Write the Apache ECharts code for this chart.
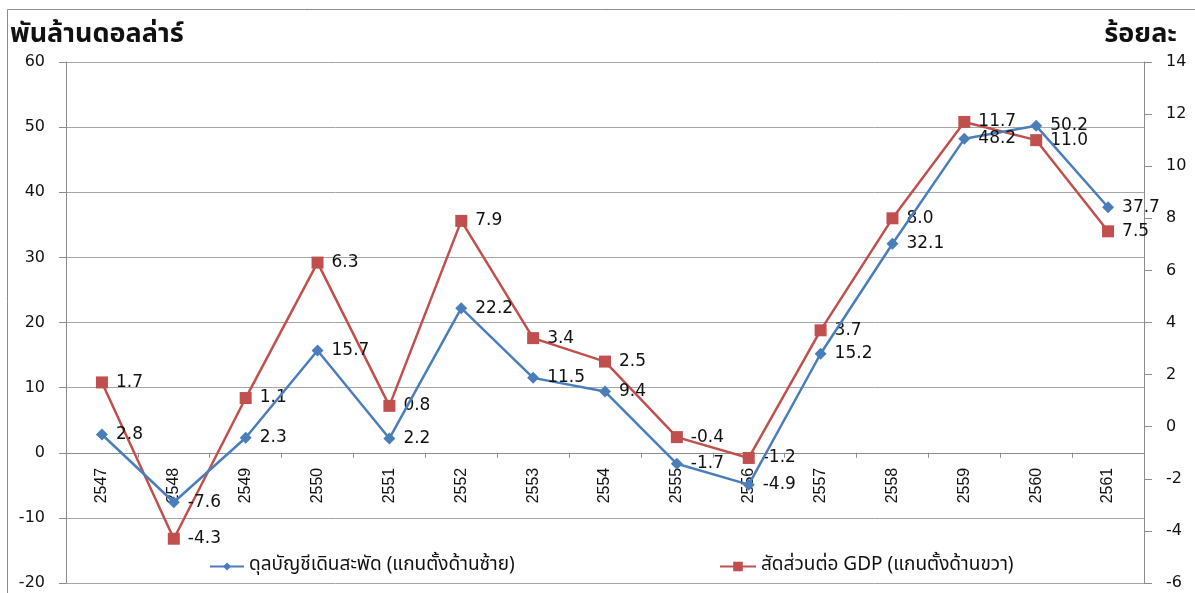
<!DOCTYPE html>
<html>
<head>
<meta charset="utf-8">
<script src="https://cdn.jsdelivr.net/npm/echarts@6/dist/echarts.min.js"></script>
<style>
  html, body { margin: 0; padding: 0; background: #fff; }
  #chart { width: 1195px; height: 593px; }
</style>
</head>
<body>
<div id="chart"></div>
<script>
// Years (Buddhist era)
const years = ['2547','2548','2549','2550','2551','2552','2553','2554','2555','2556','2557','2558','2559','2560','2561'];
// Current account balance, billion USD (left axis)
const currentAccount = [2.8, -7.6, 2.3, 15.7, 2.2, 22.2, 11.5, 9.4, -1.7, -4.9, 15.2, 32.1, 48.2, 50.2, 37.7];
// Share of GDP, percent (right axis)
const shareOfGdp = [1.7, -4.3, 1.1, 6.3, 0.8, 7.9, 3.4, 2.5, -0.4, -1.2, 3.7, 8.0, 11.7, 11.0, 7.5];

const seriesNames = ['ดุลบัญชีเดินสะพัด (แกนตั้งด้านซ้าย)', 'สัดส่วนต่อ GDP (แกนตั้งด้านขวา)'];
const leftAxisName = 'พันล้านดอลล่าร์';
const rightAxisName = 'ร้อยละ';

const BLUE = '#4a7ebb';
const RED = '#c0504d';
const GRID = '#a6a6a6';
const AXIS = '#8c8c8c';
const numFont = "'DejaVu Sans', Verdana, sans-serif";
const thaiFont = "Tahoma, 'Noto Sans Thai', 'Noto Sans', 'DejaVu Sans', sans-serif";

// plot box
const gridTop = 62, gridBottom = 10, chartH = 593;
const plotH = chartH - gridTop - gridBottom;
const leftMin = -20, leftMax = 60;
// shift the category axis up to the zero line of the left scale
const zeroOffset = -plotH * (0 - leftMin) / (leftMax - leftMin);

const chart = echarts.init(document.getElementById('chart'), null, { renderer: 'canvas' });

const labelStyle = {
  show: true,
  position: 'right',
  distance: 8,
  color: '#111',
  fontFamily: numFont,
  fontSize: 17,
  formatter: p => p.value.toFixed(1)
};

chart.setOption({
  animation: false,
  backgroundColor: '#fff',
  grid: {
    left: 66, right: 51, top: gridTop, bottom: gridBottom,
    containLabel: false,
    outerBoundsMode: 'none'
  },
  graphic: [
    {
      type: 'rect',
      shape: { x: 7.5, y: 9.5, width: 1200, height: 600 },
      style: { fill: 'none', stroke: AXIS, lineWidth: 1 },
      silent: true
    },
    {
      type: 'text', left: 10, top: 23,
      style: { text: leftAxisName, font: "bold 27px " + thaiFont, fill: '#111' }
    },
    {
      type: 'text', right: 18, top: 23,
      style: { text: rightAxisName, font: "bold 27px " + thaiFont, fill: '#111' }
    }
  ],
  legend: [
    {
      data: [seriesNames[0]],
      left: 204, top: 552,
      itemWidth: 34, itemHeight: 10, itemGap: 4,
      textStyle: { fontFamily: thaiFont, fontSize: 19, color: '#111' }
    },
    {
      data: [seriesNames[1]],
      left: 714, top: 552,
      itemWidth: 36, itemHeight: 12,
      textStyle: { fontFamily: thaiFont, fontSize: 19, color: '#111' }
    }
  ],
  xAxis: {
    type: 'category',
    data: years,
    boundaryGap: true,
    position: 'bottom',
    offset: zeroOffset,
    axisLine: { onZero: false, lineStyle: { color: AXIS, width: 1 } },
    axisTick: { show: true, length: 5, lineStyle: { color: AXIS } },
    axisLabel: {
      rotate: 90,
      margin: 15,
      color: '#111',
      fontFamily: "'Liberation Sans Narrow', 'Liberation Sans', sans-serif",
      fontSize: 16
    },
    splitLine: { show: false }
  },
  yAxis: [
    {
      type: 'value',
      min: leftMin, max: leftMax, interval: 10,
      axisLine: { show: true, lineStyle: { color: AXIS } },
      axisTick: { show: true, length: 7, lineStyle: { color: AXIS } },
      axisLabel: { margin: 21, color: '#111', fontFamily: numFont, fontSize: 16 },
      splitLine: { show: true, lineStyle: { color: GRID, width: 1 } }
    },
    {
      type: 'value',
      min: -6, max: 14, interval: 2,
      position: 'right',
      axisLine: { show: true, lineStyle: { color: AXIS } },
      axisTick: { show: true, length: 8, lineStyle: { color: AXIS } },
      axisLabel: { margin: 22, color: '#111', fontFamily: numFont, fontSize: 16 },
      splitLine: { show: false }
    }
  ],
  series: [
    {
      name: seriesNames[0],
      type: 'line',
      yAxisIndex: 0,
      data: currentAccount,
      symbol: 'diamond',
      symbolSize: 12,
      itemStyle: { color: BLUE },
      lineStyle: { color: BLUE, width: 2.5 },
      label: labelStyle,
      z: 3
    },
    {
      name: seriesNames[1],
      type: 'line',
      yAxisIndex: 1,
      data: shareOfGdp,
      symbol: 'rect',
      symbolSize: 12,
      itemStyle: { color: RED },
      lineStyle: { color: RED, width: 2.5 },
      label: labelStyle,
      z: 2
    }
  ]
});
</script>
</body>
</html>
